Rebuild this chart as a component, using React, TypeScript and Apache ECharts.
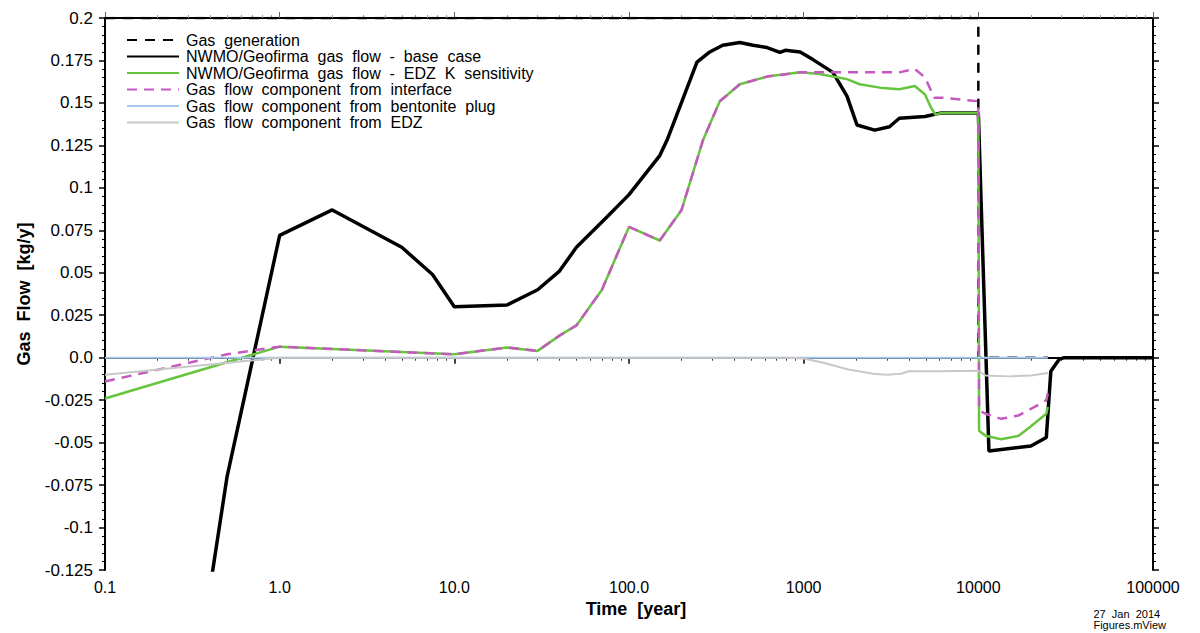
import React, { useEffect, useRef } from "react";
import * as echarts from "echarts";

const seriesNames = [
  "Gas  generation",
  "NWMO/Geofirma  gas  flow  -  base  case",
  "NWMO/Geofirma  gas  flow  -  EDZ  K  sensitivity",
  "Gas  flow  component  from  interface",
  "Gas  flow  component  from  bentonite  plug",
  "Gas  flow  component  from  EDZ",
];

const gasGeneration: [number, number][] = [
  [0.1, 0.2], [10000, 0.2], [10000, 0], [25000, 0],
];

const baseCase: [number, number][] = [
  [0.4, -0.135], [0.5, -0.07], [1, 0.072], [2, 0.087], [5, 0.065], [7.5, 0.049],
  [10, 0.03], [20, 0.031], [30, 0.04], [40, 0.051], [50, 0.065], [75, 0.083],
  [100, 0.096], [150, 0.119], [165, 0.128], [245, 0.174], [290, 0.18], [344, 0.184],
  [431, 0.1856], [513, 0.184], [617, 0.1826], [731, 0.1797], [785, 0.181], [955, 0.18],
  [1130, 0.1755], [1470, 0.168], [1770, 0.154], [2020, 0.137], [2550, 0.134],
  [3100, 0.136], [3530, 0.141], [4950, 0.142], [6050, 0.144], [10000, 0.144],
  [11500, -0.055], [20000, -0.052], [24500, -0.047], [26000, -0.008], [29000, -0.001],
  [31000, 0], [100000, 0],
];

const edzSensitivity: [number, number][] = [
  [0.1, -0.024], [1, 0.0065], [10, 0.002], [20, 0.006], [30, 0.004], [40, 0.013],
  [50, 0.019], [70, 0.04], [100, 0.077], [150, 0.069], [200, 0.087], [265, 0.128],
  [331, 0.151], [431, 0.161], [617, 0.1655], [955, 0.168], [1230, 0.167], [1470, 0.1655],
  [1770, 0.164], [2090, 0.161], [2730, 0.159], [3530, 0.158], [4330, 0.16], [4950, 0.155],
  [5370, 0.147], [5700, 0.143], [6050, 0.144], [10000, 0.144], [10100, -0.043],
  [11000, -0.046], [13500, -0.048], [17000, -0.046], [19700, -0.041], [24500, -0.033],
  [25000, -0.029],
];

const interfaceFlow: [number, number][] = [
  [0.1, -0.014], [0.5, 0.002], [1, 0.0065], [10, 0.002], [20, 0.006], [30, 0.004], [40, 0.013],
  [50, 0.019], [70, 0.04], [100, 0.077], [150, 0.069], [200, 0.087], [265, 0.128],
  [331, 0.151], [431, 0.161], [617, 0.1655], [955, 0.168], [1470, 0.168], [2090, 0.168],
  [2730, 0.168], [3530, 0.168], [4330, 0.17], [4950, 0.165], [5600, 0.153], [6300, 0.153],
  [10000, 0.151], [10100, -0.031], [11000, -0.033], [13500, -0.036], [17000, -0.034],
  [21000, -0.029], [24500, -0.025], [25000, -0.021],
];

const bentonitePlug: [number, number][] = [
  [0.1, 0], [25000, 0],
];

const edzFlow: [number, number][] = [
  [0.1, -0.01], [1, 0], [10, 0], [100, 0], [800, 0], [1000, -0.0005], [1300, -0.003],
  [1800, -0.007], [2500, -0.0095], [3000, -0.01], [3600, -0.0095], [4000, -0.008],
  [6000, -0.008], [10000, -0.0077], [11000, -0.0105], [15000, -0.011], [20000, -0.0105],
  [25000, -0.009],
];

const xTickValues = [0.1, 1, 10, 100, 1000, 10000, 100000];
const xTickLabels = ["0.1", "1.0", "10.0", "100.0", "1000", "10000", "100000"];

const minorX: number[] = [];
for (let d = 0; d < xTickValues.length - 1; d++) {
  for (let m = 2; m <= 9; m++) minorX.push(xTickValues[d] * m);
}

const FONT = "'Liberation Sans', Arial, sans-serif";

export default function App() {
  const ref = useRef<HTMLDivElement>(null);
  useEffect(() => {
    if (!ref.current) return;
    const chart = echarts.init(ref.current, undefined, { renderer: "svg" });
    const axisLineStyle = { color: "#000", width: 2 };
    const baseX = {
      type: "log" as const,
      logBase: 10,
      min: 0.1,
      max: 100000,
      splitLine: { show: false },
    };
    chart.setOption({
      animation: false,
      backgroundColor: "#fff",
      textStyle: { fontFamily: FONT },
      grid: { left: 105, right: 47, top: 18, bottom: 63, containLabel: false },
      legend: {
        orient: "vertical",
        left: 126,
        top: 32,
        itemWidth: 52,
        itemHeight: 14,
        itemGap: 0.5,
        padding: 0,
        data: seriesNames,
        itemStyle: { opacity: 0 },
        textStyle: { fontSize: 16, color: "#000", fontFamily: FONT, lineHeight: 14, padding: [0, 0, 0, 2] },
      },
      xAxis: [
        {
          ...baseX,
          position: "bottom",
          axisLine: { show: true, lineStyle: axisLineStyle },
          axisTick: { show: true, length: 6, lineStyle: { color: "#000", width: 1.5 } },
          axisLabel: {
            show: true,
            fontSize: 16,
            color: "#000",
            margin: 9,
            fontFamily: FONT,
            formatter: (v: number) => {
              const i = Math.round(Math.log10(v)) + 1;
              return xTickLabels[i] ?? String(v);
            },
          },
          name: "Time  [year]",
          nameLocation: "middle",
          nameGap: 30,
          nameTextStyle: { fontSize: 18, fontWeight: "bold", color: "#000", fontFamily: FONT, padding: [0, 0, 0, 14] },
        },
        {
          ...baseX,
          position: "bottom",
          axisLine: { show: false },
          axisTick: { show: true, length: 3, customValues: minorX, lineStyle: { color: "#333", width: 1 } },
          axisLabel: { show: false },
        },
        {
          ...baseX,
          position: "top",
          axisLine: { show: true, lineStyle: axisLineStyle },
          axisTick: { show: true, length: 6, lineStyle: { color: "#666", width: 1 } },
          axisLabel: { show: false },
        },
        {
          ...baseX,
          position: "top",
          axisLine: { show: false },
          axisTick: { show: true, length: 3, customValues: minorX, lineStyle: { color: "#999", width: 1 } },
          axisLabel: { show: false },
        },
      ],
      yAxis: [
        {
          type: "value",
          position: "left",
          min: -0.125,
          max: 0.2,
          interval: 0.025,
          splitLine: { show: false },
          axisLine: { show: true, lineStyle: axisLineStyle },
          axisTick: { show: true, length: 6, lineStyle: { color: "#000", width: 1.5 } },
          minorTick: { show: true, splitNumber: 5, length: 3, lineStyle: { color: "#000", width: 1 } },
          axisLabel: {
            fontSize: 17,
            color: "#000",
            margin: 12,
            fontFamily: FONT,
            formatter: (v: number) => (Math.abs(v) < 1e-9 ? "0.0" : String(+v.toFixed(3))),
          },
          name: "Gas  Flow  [kg/y]",
          nameLocation: "middle",
          nameGap: 72,
          nameTextStyle: { fontSize: 18, fontWeight: "bold", color: "#000", fontFamily: FONT },
        },
        {
          type: "value",
          position: "right",
          min: -0.125,
          max: 0.2,
          interval: 0.025,
          splitLine: { show: false },
          axisLine: { show: true, lineStyle: axisLineStyle },
          axisTick: { show: true, length: 6, lineStyle: { color: "#000", width: 1.5 } },
          minorTick: { show: true, splitNumber: 5, length: 3, lineStyle: { color: "#000", width: 1 } },
          axisLabel: { show: false },
        },
      ],
      graphic: [
        {
          type: "text",
          right: 34,
          top: 608,
          style: {
            text: "27  Jan  2014\nFigures.mView",
            fontSize: 11,
            lineHeight: 11,
            fill: "#000",
            align: "right",
            fontFamily: FONT,
          },
        },
      ],
      series: [
        {
          name: seriesNames[0],
          type: "line",
          data: gasGeneration,
          symbol: "none",
          lineStyle: { color: "#000", width: 2.5, type: [10, 8] },
          itemStyle: { color: "#000" },
        },
        {
          name: seriesNames[1],
          type: "line",
          data: baseCase,
          symbol: "none",
          lineStyle: { color: "#000", width: 3.5 },
          itemStyle: { color: "#000" },
        },
        {
          name: seriesNames[2],
          type: "line",
          data: edzSensitivity,
          symbol: "none",
          lineStyle: { color: "#66c43d", width: 2.5 },
          itemStyle: { color: "#66c43d" },
        },
        {
          name: seriesNames[3],
          type: "line",
          data: interfaceFlow,
          symbol: "none",
          lineStyle: { color: "#c659c0", width: 2.5, type: [10, 7] },
          itemStyle: { color: "#c659c0" },
        },
        {
          name: seriesNames[4],
          type: "line",
          data: bentonitePlug,
          symbol: "none",
          lineStyle: { color: "#a8c8ec", width: 2 },
          itemStyle: { color: "#a8c8ec" },
        },
        {
          name: seriesNames[5],
          type: "line",
          data: edzFlow,
          symbol: "none",
          lineStyle: { color: "#c8c8c8", width: 2 },
          itemStyle: { color: "#c8c8c8" },
        },
      ],
    });
    return () => chart.dispose();
  }, []);
  return (
    <div
      ref={ref}
      style={{ position: "fixed", left: 0, top: 0, width: 1200, height: 633, background: "#fff" }}
    />
  );
}
